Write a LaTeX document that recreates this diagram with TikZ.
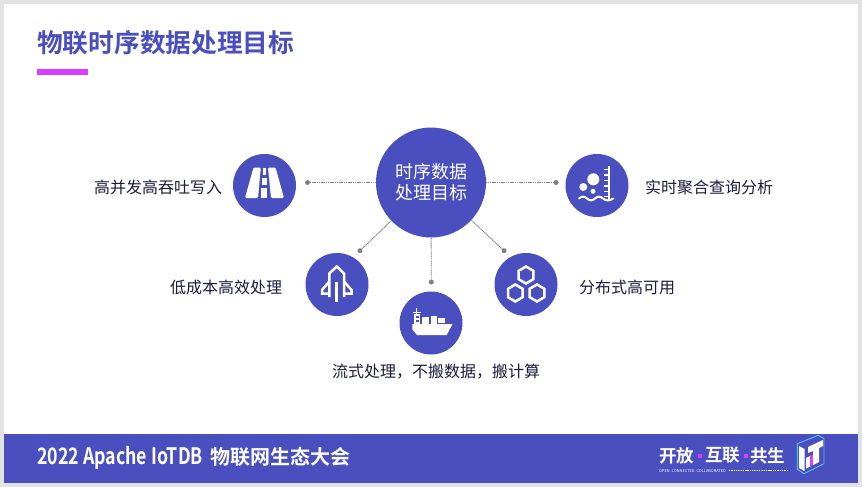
\documentclass[tikz,border=0pt]{standalone}
\usepackage{fontspec}
\usepackage{graphicx}
\setmainfont{Noto Sans CJK SC}
\newfontfamily\cjkbold[BoldFont=*]{Noto Sans CJK SC Bold}
\definecolor{brand}{HTML}{4A4FBF}
\definecolor{accent}{HTML}{D93EFF}
\definecolor{ink}{HTML}{1B1B40}
\definecolor{wire}{HTML}{808080}
\definecolor{edge}{HTML}{E2E2E2}
\definecolor{cyanline}{HTML}{4FC3F0}
\tikzset{
  x=1pt,y=-1pt,
  hubnode/.style={circle,fill=brand,minimum size=110pt,inner sep=0pt,text=white,align=center,font=\fontsize{18}{21}\selectfont},
  iconbg/.style={circle,fill=brand,minimum size=63pt,inner sep=0pt},
  dotnode/.style={circle,fill=wire,minimum size=5pt,inner sep=0pt},
  wireline/.style={draw=wire,line width=0.9pt,dash pattern=on 1.2pt off 0.6pt},
  lab/.style={text=ink,font=\fontsize{16}{18}\selectfont,inner sep=0pt},
  glyph/.style={draw=white,line width=2.5pt,line join=miter},
  solidw/.style={fill=white,draw=none},
}
\begin{document}
\begin{tikzpicture}
\useasboundingbox (0,0) rectangle (862,487);
\fill[edge] (0,0) rectangle (862,487);
\fill[white] (4,4) rectangle (858,483);
\fill[brand] (4,434) rectangle (858,483);
% title
\node[anchor=west,inner sep=0pt,text=brand,font=\fontsize{25.7}{28}\selectfont\cjkbold] (title) at (37,43) {物联时序数据处理目标};
\fill[accent] (37,69) rectangle (88,75);
% hub and satellites
\node[hubnode] (hub) at (431,182.5) {时序数据\\处理目标};
\node[iconbg] (road) at (264.5,185.5) {};
\node[iconbg] (water) at (597,185.5) {};
\node[iconbg] (rocket) at (337,284.5) {};
\node[iconbg] (ship) at (431,323) {};
\node[iconbg] (hex) at (526,284.5) {};
\node[dotnode] (d1) at (307.5,182.5) {};
\node[dotnode] (d2) at (556,182.5) {};
\node[dotnode] (d3) at (360,250.7) {};
\node[dotnode] (d4) at (431.3,282) {};
\node[dotnode] (d5) at (504,250.7) {};
\draw[wireline] (hub) -- (d1);
\draw[wireline] (hub) -- (d2);
\draw[wireline] (hub) -- (d3);
\draw[wireline] (hub) -- (d4);
\draw[wireline] (hub) -- (d5);
% labels
\node[lab,anchor=west] (l1) at (94,187) {高并发高吞吐写入};
\node[lab,anchor=west] (l2) at (645,187) {实时聚合查询分析};
\node[lab,anchor=west] (l3) at (170,287) {低成本高效处理};
\node[lab,anchor=west] (l4) at (579,287) {分布式高可用};
\node[lab,anchor=west] (l5) at (332,372) {流式处理，不搬数据，搬计算};
% road icon
\fill[solidw,rounded corners=1.2pt] (253.5,167.5) -- (260.8,167.5) -- (258,198) -- (245,198) -- cycle;
\fill[solidw,rounded corners=1.2pt] (268,167.5) -- (275.5,167.5) -- (284,198) -- (271,198) -- cycle;
\fill[solidw] (262.8,167.5) rectangle (266.2,175);
\fill[solidw] (262.3,178) rectangle (266.7,185);
\fill[solidw] (261.4,188) rectangle (267.4,198);
% rocket icon
\draw[glyph] (329.3,297) -- (329.3,273.5) -- (336.7,266.5) -- (344,273.5) -- (344,297);
\draw[glyph] (329.3,281.5) -- (322,290) -- (322,293.5) -- (329.3,293.5);
\draw[glyph] (344,281.5) -- (351.5,290) -- (351.5,293.5) -- (344,293.5);
\draw[glyph] (336.5,282) -- (336.5,302);
% ship icon
\fill[solidw] (412.3,324) -- (452.5,324) -- (446.7,335) -- (417,335) -- (412.3,329.5) -- cycle;
\fill[solidw] (422.3,317) rectangle (429,324.6);
\fill[solidw] (430.7,315.5) rectangle (436.9,324.6);
\fill[solidw] (438.3,318.3) rectangle (445.3,322.6);
\fill[solidw] (414,314) rectangle (420.3,324.6);
\fill[brand] (415.6,316) rectangle (418.6,318);
\fill[brand] (415.6,319.8) rectangle (418.6,321.8);
\draw[white,line width=1pt] (416.8,307.5) -- (416.8,314);
\draw[white,line width=1pt] (412.8,312) -- (420.6,312);
% hexagon icon
\draw[glyph] (526,266.5) -- (533.3,270.8) -- (533.3,279.2) -- (526,283.5) -- (518.7,279.2) -- (518.7,270.8) -- cycle;
\draw[glyph] (515.3,284.5) -- (522.6,288.8) -- (522.6,297.2) -- (515.3,301.5) -- (508,297.2) -- (508,288.8) -- cycle;
\draw[glyph] (537,284.5) -- (544.3,288.8) -- (544.3,297.2) -- (537,301.5) -- (529.7,297.2) -- (529.7,288.8) -- cycle;
% water icon
\fill[solidw] (593.3,179.3) circle[radius=6];
\fill[solidw] (583.3,187) circle[radius=4];
\fill[solidw] (593,191.3) circle[radius=2.5];
\draw[white,line width=1.8pt] (609,166) -- (609,199);
\foreach \yy in {169.5,175,180.7,186,191.7,196.5}
  \draw[white,line width=1.4pt] (603.5,\yy) -- (609,\yy);
\draw[white,line width=2pt,line cap=round] (579,198.5) .. controls (582,196) and (584,196) .. (587,198.5) .. controls (590,201) and (592,201) .. (595,198.5) .. controls (598,196) and (600,196) .. (603,198.5) .. controls (606,201) and (609,201) .. (613.5,198.5);
% footer
\node[anchor=west,inner sep=0pt,text=white,font=\fontsize{20}{24}\selectfont\cjkbold] (foot) at (37,458)
  {\scalebox{0.845}[1.08]{\fontsize{21}{24}\selectfont 2022 Apache IoTDB}\hspace{8pt}物联网生态大会};
\node[anchor=west,inner sep=0pt,text=white,font=\fontsize{17.5}{20}\selectfont\cjkbold] (m1) at (659,455.5) {开放};
\node[anchor=west,inner sep=0pt,text=white,font=\fontsize{17.5}{20}\selectfont\cjkbold] (m2) at (705,455.5) {互联};
\node[anchor=west,inner sep=0pt,text=white,font=\fontsize{17.5}{20}\selectfont\cjkbold] (m3) at (750,455.5) {共生};
\fill[accent] (698,454) rectangle (702,458);
\fill[accent] (743.7,454) rectangle (747.7,458);
\node[anchor=west,inner sep=0pt,text=white,font=\fontsize{3.9}{4}\selectfont] (m4) at (659,470.7) {OPEN. CONNECTED. COLLABORATED};
\coordinate (t1) at (729,470.7);
\coordinate (t2) at (788,470.7);
\draw[white,line width=1.2pt,dash pattern=on 1.4pt off 0.9pt] (t1) -- (t2);
% cube logo
\draw[cyanline,line width=0.9pt,line join=round] (797.3,443.7) -- (818.3,435.3) -- (824,438.7) -- (824,463.7) -- (804,473.7) -- (797.3,469.3) -- cycle;
\fill[white] (799,446) -- (804.5,449) -- (804.5,471) -- (799,468) -- cycle;
\fill[white] (806,458) -- (811,455.5) -- (811,466) -- (806,468.5) -- cycle;
\fill[white] (808,447) -- (823,440) -- (823,446) -- (819,448) -- (819,462) -- (813,465) -- (813,451) -- (808,453) -- cycle;
\fill[accent] (810,456) -- (812.8,454.8) -- (812.8,465) -- (810,466.3) -- cycle;
\end{tikzpicture}
\end{document}
